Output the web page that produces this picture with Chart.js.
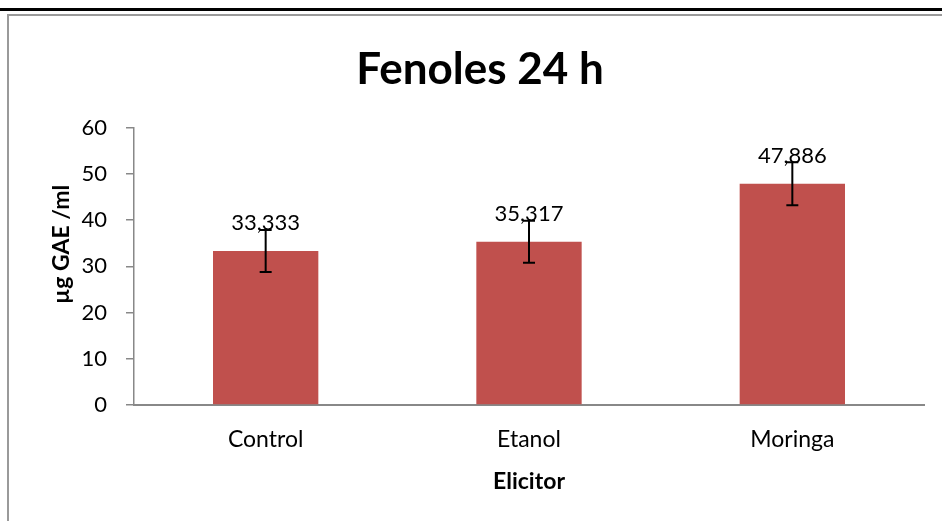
<!DOCTYPE html>
<html>
<head>
<meta charset="utf-8">
<script src="https://cdn.jsdelivr.net/npm/chart.js@4/dist/chart.umd.min.js"></script>
<style>
  html, body { margin: 0; padding: 0; background: #fff; }
  #wrap { position: relative; width: 942px; height: 521px; overflow: hidden; }
  #c { position: absolute; left: 0; top: 0; }
  .topline { position: absolute; left: 0; top: 8px; width: 942px; height: 3px; background: #000; }
  .frameTop { position: absolute; left: 8px; top: 14px; width: 934px; height: 2px; background: #9a9a9a; }
  .frameLeft { position: absolute; left: 7px; top: 14px; width: 2px; height: 507px; background: #9a9a9a; }
</style>
</head>
<body>
<div id="wrap">
  <canvas id="c" width="942" height="521"></canvas>
  <div class="topline"></div>
  <div class="frameTop"></div>
  <div class="frameLeft"></div>
</div>
<script>
const categories = ["Control", "Etanol", "Moringa"];
const values = [33.333, 35.317, 47.886];
const errors = [4.55, 4.55, 4.66];
const yTicks = [0, 10, 20, 30, 40, 50, 60];
const yTitle = 'µg GAE /ml';

const FONT = "Lato, 'Open Sans', sans-serif";

const overlay = {
  id: 'overlay',
  afterDatasetsDraw(chart) {
    const ctx = chart.ctx;
    const meta = chart.getDatasetMeta(0);
    const y = chart.scales.y;
    ctx.save();
    // data labels
    ctx.fillStyle = '#000';
    ctx.font = "22px " + FONT;
    ctx.textAlign = 'center';
    ctx.textBaseline = 'middle';
    meta.data.forEach((bar, i) => {
      const txt = values[i].toFixed(3).replace('.', ',');
      ctx.fillText(txt, bar.x, y.getPixelForValue(values[i]) - 28);
    });
    // error bars
    ctx.strokeStyle = '#000';
    ctx.lineWidth = 2;
    meta.data.forEach((bar, i) => {
      const top = y.getPixelForValue(values[i] + errors[i]);
      const bot = y.getPixelForValue(values[i] - errors[i]);
      ctx.beginPath();
      ctx.moveTo(bar.x, top); ctx.lineTo(bar.x, bot);
      ctx.moveTo(bar.x - 6, top); ctx.lineTo(bar.x + 6, top);
      ctx.moveTo(bar.x - 6, bot); ctx.lineTo(bar.x + 6, bot);
      ctx.stroke();
    });
    ctx.restore();
  },
  afterDraw(chart) {
    // y-axis title (placed slightly above the axis centre, as in the original)
    const ctx = chart.ctx;
    const a = chart.chartArea;
    ctx.save();
    ctx.translate(62, (a.top + a.bottom) / 2 - 22);
    ctx.rotate(-Math.PI / 2);
    ctx.fillStyle = '#000';
    ctx.font = "bold 23px " + FONT;
    ctx.textAlign = 'center';
    ctx.textBaseline = 'middle';
    ctx.fillText(yTitle, 0, 0);
    ctx.restore();
  }
};

new Chart(document.getElementById('c'), {
  type: 'bar',
  data: {
    labels: categories,
    datasets: [{
      data: values,
      backgroundColor: '#C0504D',
      borderWidth: 0,
      barPercentage: 1,
      categoryPercentage: 0.4
    }]
  },
  options: {
    responsive: false,
    animation: false,
    devicePixelRatio: 1,
    layout: { padding: { left: 36, right: 18, top: 0, bottom: 0 } },
    plugins: {
      legend: { display: false },
      tooltip: { enabled: false },
      title: {
        display: true,
        text: 'Fenoles 24 h',
        color: '#000',
        font: { family: FONT, size: 44, weight: 'bold' },
        padding: { top: 43, bottom: 32 }
      }
    },
    scales: {
      x: {
        grid: { display: false, drawTicks: false },
        border: { display: true, color: '#888', width: 2 },
        ticks: { color: '#000', font: { family: FONT, size: 23 }, padding: 21 },
        title: {
          display: true, text: 'Elicitor', color: '#000',
          font: { family: FONT, size: 23, weight: 'bold' },
          padding: { top: 0, bottom: 26 }
        },
        afterFit(s) { s.height = 116; }
      },
      y: {
        min: 0, max: 60,
        afterBuildTicks(s) { s.ticks = yTicks.map(v => ({ value: v })); },
        grid: { drawOnChartArea: false, drawTicks: true, tickLength: 8, color: '#888', lineWidth: 1.5 },
        border: { display: true, color: '#888', width: 1.5 },
        ticks: { color: '#000', font: { family: FONT, size: 22 }, padding: 19 },
        title: { display: false },
        afterFit(s) { s.width = 98; }
      }
    }
  },
  plugins: [overlay]
});
</script>
</body>
</html>
